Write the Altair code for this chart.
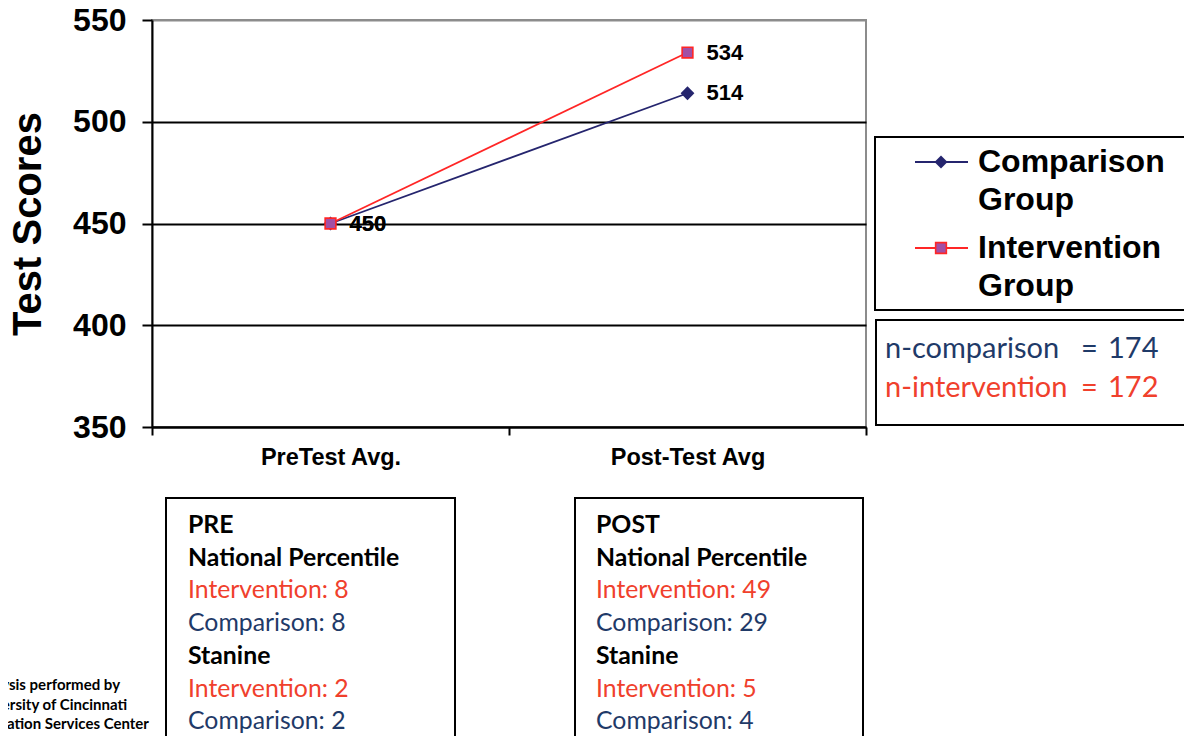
import altair as alt
import pandas as pd

# ---------------- data ----------------
categories = ["PreTest Avg.", "Post-Test Avg"]
series_names = ["Comparison Group", "Intervention Group"]
comparison_scores = [450, 514]
intervention_scores = [450, 534]
y_ticks = [350, 400, 450, 500, 550]

n_labels = ["n-comparison", "n-intervention"]
n_values = [174, 172]

pre_percentile = [8, 8]      # intervention, comparison
pre_stanine = [2, 2]
post_percentile = [49, 29]
post_stanine = [5, 4]

credit_lines = ["Analysis performed by", "University of Cincinnati", "Evaluation Services Center"]

# ---------------- style ----------------
NAVY = "#25256e"
RED = "#ff2626"
SQ_FILL = "#a24fa5"
TXT_RED = "#f0402c"
TXT_NAVY = "#1f3a68"
ARIAL = "Liberation Sans"
CAL = "Lato"

rows = []
for s, vals in zip(series_names, [comparison_scores, intervention_scores]):
    for c, v in zip(categories, vals):
        rows.append({"series": s, "category": c, "score": v})
scores = pd.DataFrame(rows)

color_scale = alt.Scale(domain=series_names, range=[NAVY, RED])

x_enc = alt.X(
    "category:N",
    sort=categories,
    bandPosition=0.5,
    scale=alt.Scale(type="band", domain=categories, paddingInner=0, paddingOuter=0),
    axis=alt.Axis(
        title=None, tickBand="extent", labelAngle=0, grid=False,
        domainColor="black", domainWidth=2, tickColor="black", tickWidth=2, tickSize=8,
        labelFont=ARIAL, labelFontWeight="bold", labelFontSize=23.5, labelColor="black",
        labelPadding=10,
    ),
)
y_enc = alt.Y(
    "score:Q",
    scale=alt.Scale(domain=[350, 550], nice=False, zero=False),
    axis=alt.Axis(
        values=y_ticks, title="Test Scores",
        domainColor="black", domainWidth=2, tickColor="black", tickWidth=2, tickSize=10,
        labelFont=ARIAL, labelFontWeight="bold", labelFontSize=32, labelColor="black",
        labelPadding=16,
        grid=True,
        gridColor={"condition": {"test": "datum.value === 550", "value": "#8c8c8c"}, "value": "black"},
        gridWidth=2,
        titleFont=ARIAL, titleFontWeight="bold", titleFontSize=40, titleColor="black",
        titleX=-124, titleY=203.5, titleAlign="center", titleBaseline="middle", titleAngle=270,
    ),
)

base = alt.Chart(scores).encode(x=x_enc, y=y_enc)

lines = base.mark_line(strokeWidth=1.8).encode(
    color=alt.Color("series:N", scale=color_scale, legend=None)
)
comp_pts = base.transform_filter(alt.datum.series == series_names[0]).mark_point(
    shape="diamond", filled=True, size=190, color=NAVY, opacity=1
)
int_pts = base.transform_filter(alt.datum.series == series_names[1]).mark_point(
    shape="square", filled=True, size=115, fill=SQ_FILL, stroke=RED, strokeWidth=1.6, opacity=1
)
val_labels = base.mark_text(
    align="left", baseline="middle", dx=19, font=ARIAL, fontWeight="bold", fontSize=22, color="black"
).encode(text=alt.Text("score:Q"))

# ---------------- legend box (plot-relative pixels) ----------------
def box(x1, y1, x2, y2):
    return alt.Chart(alt.Data(values=[{}])).mark_rect(
        fill="white", fillOpacity=0, stroke="black", strokeWidth=2
    ).encode(x=alt.value(x1), x2=alt.value(x2), y=alt.value(y1), y2=alt.value(y2))

legend_row_y = [142, 228]
legend_gap = 38
leg_sym = pd.DataFrame({"series": series_names, "py": legend_row_y})
leg_lines = alt.Chart(leg_sym).mark_rule(strokeWidth=1.8).encode(
    x=alt.value(763), x2=alt.value(816),
    y=alt.Y("py:Q", scale=None, axis=None),
    color=alt.Color("series:N", scale=color_scale, legend=None),
)
leg_comp = alt.Chart(leg_sym).transform_filter(alt.datum.series == series_names[0]).mark_point(
    shape="diamond", filled=True, size=170, color=NAVY, opacity=1
).encode(x=alt.value(789), y=alt.Y("py:Q", scale=None, axis=None))
leg_int = alt.Chart(leg_sym).transform_filter(alt.datum.series == series_names[1]).mark_point(
    shape="square", filled=True, size=115, fill=SQ_FILL, stroke=RED, strokeWidth=1.6, opacity=1
).encode(x=alt.value(789), y=alt.Y("py:Q", scale=None, axis=None))

leg_txt_rows = []
for name, y0 in zip(series_names, legend_row_y):
    for i, w in enumerate(name.split(" ")):
        leg_txt_rows.append({"text": w, "py": y0 + i * legend_gap})
leg_text = alt.Chart(pd.DataFrame(leg_txt_rows)).mark_text(
    align="left", baseline="middle", font=ARIAL, fontWeight="bold", fontSize=32, color="black"
).encode(x=alt.value(826), y=alt.Y("py:Q", scale=None, axis=None), text="text:N")

# ---------------- n box ----------------
n_df = pd.DataFrame({"label": n_labels, "value": n_values, "py": [329, 368],
                     "col": [TXT_NAVY, TXT_RED]})
n_label = alt.Chart(n_df).mark_text(align="left", baseline="middle", font=CAL, fontSize=29).encode(
    x=alt.value(733), y=alt.Y("py:Q", scale=None, axis=None), text="label:N",
    color=alt.Color("col:N", scale=None, legend=None))
n_eq = alt.Chart(n_df).mark_text(align="left", baseline="middle", font=CAL, fontSize=29, text="=").encode(
    x=alt.value(929), y=alt.Y("py:Q", scale=None, axis=None),
    color=alt.Color("col:N", scale=None, legend=None))
n_val = alt.Chart(n_df).mark_text(align="left", baseline="middle", font=CAL, fontSize=29).encode(
    x=alt.value(956), y=alt.Y("py:Q", scale=None, axis=None), text="value:N",
    color=alt.Color("col:N", scale=None, legend=None))

# ---------------- PRE / POST boxes ----------------
def info_rows(head, pct, stan, px):
    lines_ = [head, "National Percentile",
              f"Intervention: {pct[0]}", f"Comparison: {pct[1]}",
              "Stanine",
              f"Intervention: {stan[0]}", f"Comparison: {stan[1]}"]
    kinds = ["head", "head", "int", "comp", "head", "int", "comp"]
    return [{"text": t, "kind": k, "px": px, "py": 506 + i * 32.7}
            for i, (t, k) in enumerate(zip(lines_, kinds))]

info_df = pd.DataFrame(info_rows("PRE", pre_percentile, pre_stanine, 36)
                       + info_rows("POST", post_percentile, post_stanine, 444))

def info_layer(kind, color, weight):
    return alt.Chart(info_df).transform_filter(alt.datum.kind == kind).mark_text(
        align="left", baseline="middle", font=CAL, fontSize=24.8, fontWeight=weight, color=color
    ).encode(x=alt.X("px:Q", scale=None, axis=None), y=alt.Y("py:Q", scale=None, axis=None), text="text:N")

info_head = info_layer("head", "black", "bold")
info_int = info_layer("int", TXT_RED, "normal")
info_comp = info_layer("comp", TXT_NAVY, "normal")

# ---------------- credit ----------------
credit_df = pd.DataFrame({"text": credit_lines, "py": [665, 685, 704]})
credit = alt.Chart(credit_df).mark_text(
    align="left", baseline="middle", font=CAL, fontWeight="bold", fontSize=15, color="black"
).encode(x=alt.value(-181), y=alt.Y("py:Q", scale=None, axis=None), text="text:N")

chart = alt.layer(
    lines, comp_pts, int_pts, val_labels,
    box(723, 117, 1060, 290), leg_lines, leg_comp, leg_int, leg_text,
    box(724, 300, 1034, 405), n_label, n_eq, n_val,
    box(14, 478, 303, 760), box(423, 478, 711, 760),
    info_head, info_int, info_comp,
    credit,
).properties(
    width=714, height=407,
    autosize=alt.AutoSizeParams(type="none"),
    padding={"left": 144, "top": 12, "right": 318, "bottom": 309},
).configure_view(stroke="#8c8c8c", strokeWidth=2)

chart.save("out.html", embed_options={"renderer": "svg", "actions": False})
